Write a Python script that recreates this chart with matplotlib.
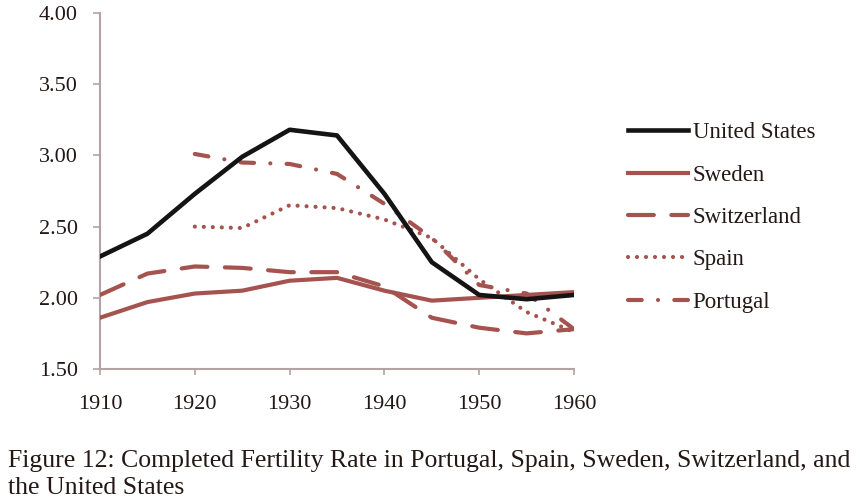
import matplotlib
matplotlib.use("Agg")
import matplotlib.pyplot as plt

years = [1910, 1915, 1920, 1925, 1930, 1935, 1940, 1945, 1950, 1955, 1960]
us = [2.29, 2.45, 2.73, 2.99, 3.18, 3.14, 2.73, 2.25, 2.02, 1.99, 2.02]
sweden = [1.86, 1.97, 2.03, 2.05, 2.12, 2.14, 2.05, 1.98, 2.00, 2.02, 2.04]
switzerland = [2.02, 2.17, 2.22, 2.21, 2.18, 2.18, 2.08, 1.86, 1.79, 1.75, 1.78]
spain_years = [1920, 1925, 1930, 1935, 1940, 1945, 1950, 1955, 1960]
spain = [2.50, 2.49, 2.65, 2.63, 2.55, 2.42, 2.13, 1.90, 1.76]
portugal_years = [1920, 1925, 1930, 1935, 1940, 1945, 1950, 1955, 1960]
portugal = [3.01, 2.95, 2.94, 2.87, 2.66, 2.42, 2.09, 2.03, 1.78]

yticks = [1.50, 2.00, 2.50, 3.00, 3.50, 4.00]
xticks = [1910, 1920, 1930, 1940, 1950, 1960]
caption_lines = ["Figure 12: Completed Fertility Rate in Portugal, Spain, Sweden, Switzerland, and",
                 "the United States"]

RED = "#A5534F"
BLACK = "#141414"
AXC = "#B3A3A3"
TXT = "#231816"
SERIF = ["Liberation Serif", "DejaVu Serif"]
plt.rcParams["font.family"] = SERIF

fig = plt.figure(figsize=(8.6, 5.0), dpi=100)
ax = fig.add_axes([100 / 860, 1 - 369 / 500, 474 / 860, 356 / 500])

lw = 3.0
ax.plot(years, us, color=BLACK, lw=3.3, solid_joinstyle="round", label="United States", zorder=6)
ax.plot(years, sweden, color=RED, lw=lw, solid_joinstyle="round", label="Sweden", zorder=5)
ax.plot(years, switzerland, color=RED, lw=lw, linestyle=(0, (6.2, 4.2)),
        dash_capstyle="round", label="Switzerland", zorder=4)
ax.plot(spain_years, spain, color=RED, lw=lw, linestyle=(0, (0.01, 2.15)),
        dash_capstyle="round", label="Spain", zorder=3)
ax.plot(portugal_years, portugal, color=RED, lw=lw, linestyle=(0, (3.3, 3.9, 0.01, 3.9)),
        dash_capstyle="round", label="Portugal", zorder=3)

ax.set_xlim(1910, 1960)
ax.set_ylim(1.5, 4.0)
ax.set_yticks(yticks)
ax.set_yticklabels([f"{v:.2f}" for v in yticks])
ax.set_xticks(xticks)
ax.set_xticklabels([str(v) for v in xticks])
for s in ["top", "right"]:
    ax.spines[s].set_visible(False)
for s in ["left", "bottom"]:
    ax.spines[s].set_color(AXC)
    ax.spines[s].set_linewidth(1.5)
ax.tick_params(axis="y", direction="out", length=5, width=1.2, color=AXC, pad=11,
               labelsize=16, labelcolor=TXT)
ax.tick_params(axis="x", direction="out", length=4, width=1.2, color=AXC, pad=15,
               labelsize=16, labelcolor=TXT)

leg = fig.legend(loc="center left", bbox_to_anchor=(628 / 860, 1 - 217.5 / 500),
                 frameon=False, fontsize=16.5, handlelength=2.6, handletextpad=0.22,
                 labelspacing=0.93, borderpad=0, borderaxespad=0)
for t in leg.get_texts():
    t.set_color(TXT)

fig.text(8 / 860, 1 - 467 / 500, caption_lines[0], fontsize=18.5, color=TXT,
         ha="left", va="baseline")
fig.text(8 / 860, 1 - 494 / 500, caption_lines[1], fontsize=18.5, color=TXT,
         ha="left", va="baseline")

fig.savefig("out.png", dpi=100)
